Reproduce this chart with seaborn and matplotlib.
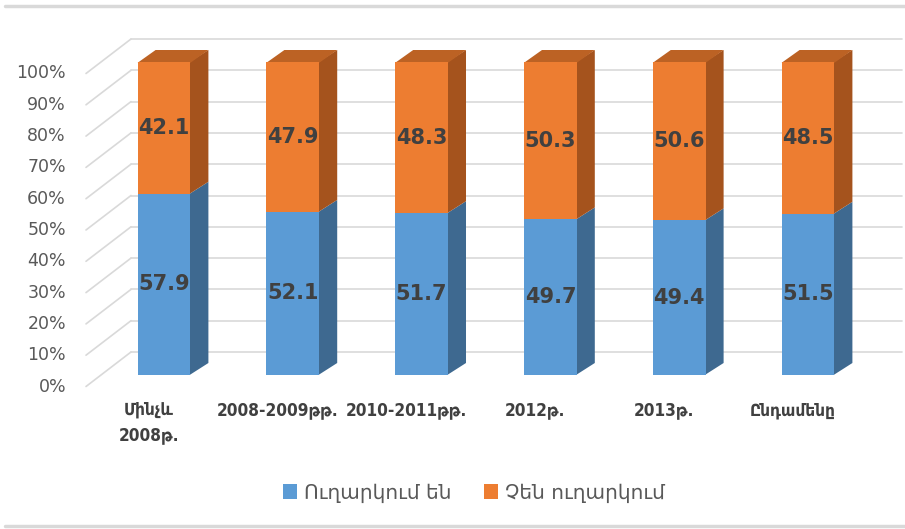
import matplotlib
matplotlib.use("Agg")
import matplotlib.pyplot as plt
from matplotlib.patches import Polygon, Patch
from matplotlib.transforms import IdentityTransform
from matplotlib.lines import Line2D
import seaborn as sns
import numpy as np

# ---- data ----
categories = ["Մինչև\n2008թ.", "2008-2009թթ.", "2010-2011թթ.", "2012թ.", "2013թ.", "Ընդամենը"]
send = [57.9, 52.1, 51.7, 49.7, 49.4, 51.5]
not_send = [42.1, 47.9, 48.3, 50.3, 50.6, 48.5]
series_names = ["Ուղարկում են", "Չեն ուղարկում"]
yticks = [0, 10, 20, 30, 40, 50, 60, 70, 80, 90, 100]
ytick_labels = [f"{v}%" for v in yticks]

# ---- style ----
sns.set_theme(style="white")
plt.rcParams['font.family'] = ['DejaVu Sans']

BLUE = "#5B9BD5"
BLUE_SIDE = "#3E6990"
ORANGE = "#ED7D31"
ORANGE_SIDE = "#A5531D"
ORANGE_TOP = "#BC6224"
GRID = "#d9d9d9"
TXT = "#595959"
LBL = "#404040"

W, H = 905, 529
fig = plt.figure(figsize=(W / 100, H / 100), dpi=100, facecolor="white")

# axes: y 0..100 maps to pixel rows 375..62 (from top); category i at x = 164 + 128.8*i
step = 128.8
x_left_px, x_right_px = 100, 900
ax = fig.add_axes([x_left_px / W, (H - 375) / H, (x_right_px - x_left_px) / W, 313 / H])
ax.set_facecolor("none")

totals = [a + b for a, b in zip(send, not_send)]
sns.barplot(x=categories, y=totals, color=ORANGE, saturation=1, width=0.41, ax=ax, zorder=3,
            linewidth=0, edgecolor="none")
sns.barplot(x=categories, y=send, color=BLUE, saturation=1, width=0.41, ax=ax, zorder=3,
            linewidth=0, edgecolor="none")

ax.set_xlim((x_left_px - 164) / step, (x_right_px - 164) / step)
ax.set_ylim(0, 100)
ax.axis("off")

ident = IdentityTransform()
tD = ax.transData

# ---- back wall gridlines, side wall diagonals, y tick labels ----
back_dy = 23
front_dy = -11.5
wall_x0 = 131
diag_x0 = 86
for v, lab in zip(yticks, ytick_labels):
    yd = tD.transform((0, v))[1]
    ax.add_line(Line2D([wall_x0, 902], [yd + back_dy, yd + back_dy], transform=ident,
                       color=GRID, lw=1.2, zorder=0, clip_on=False))
    ax.add_line(Line2D([diag_x0, wall_x0], [yd + front_dy, yd + back_dy], transform=ident,
                       color=GRID, lw=1.2, zorder=0, clip_on=False))
    ax.text(66, yd + front_dy, lab, transform=ident, ha="right", va="center",
            fontsize=12.5, color=TXT)

# ---- 3D sides / tops ----
dx, dy = 18, 12
n = len(categories)
orange_patches = ax.patches[:n]
blue_patches = ax.patches[n:2 * n]


def side_and_top(p, y_bottom, side_col, top_col=None):
    x0 = p.get_x(); x1 = x0 + p.get_width()
    y1 = p.get_y() + p.get_height()
    X0, Yb = tD.transform((x0, y_bottom))
    X1, Yt = tD.transform((x1, y1))
    ov = 0.8  # small overlap to avoid antialiasing seams
    ax.add_patch(Polygon([(X1 - ov, Yb), (X1 + dx, Yb + dy), (X1 + dx, Yt + dy), (X1 - ov, Yt)],
                         closed=True, transform=ident, facecolor=side_col, edgecolor="none",
                         zorder=2, clip_on=False))
    if top_col is not None:
        ax.add_patch(Polygon([(X0, Yt - ov), (X0 + dx, Yt + dy), (X1 + dx, Yt + dy), (X1, Yt - ov)],
                             closed=True, transform=ident, facecolor=top_col, edgecolor="none",
                             zorder=2, clip_on=False))


for i in range(n):
    bp = blue_patches[i]
    op = orange_patches[i]
    side_and_top(bp, bp.get_y(), BLUE_SIDE)
    side_and_top(op, bp.get_y() + bp.get_height(), ORANGE_SIDE, ORANGE_TOP)

# ---- value labels ----
for i in range(n):
    ax.text(i, send[i] / 2, f"{send[i]:.1f}", ha="center", va="center",
            fontsize=15, fontweight="bold", color=LBL, zorder=5)
    ax.text(i, send[i] + not_send[i] / 2, f"{not_send[i]:.1f}", ha="center", va="center",
            fontsize=15, fontweight="bold", color=LBL, zorder=5)

# ---- category labels ----
for i, cat in enumerate(categories):
    Xc = tD.transform((i, 0))[0] - 15
    ax.text(Xc, H - 401, cat, transform=ident, ha="center", va="top", multialignment="center",
            fontsize=12.3, fontweight="bold", fontstretch="condensed", color=LBL, linespacing=1.5)

# ---- legend ----
handles = [Patch(facecolor=BLUE, edgecolor="none"), Patch(facecolor=ORANGE, edgecolor="none")]
fig.legend(handles, series_names, loc="center", bbox_to_anchor=(0.524, 1 - 493 / H),
           ncol=2, frameon=False, fontsize=14.5, handlelength=0.7, handleheight=0.7,
           handletextpad=0.35, columnspacing=1.6, labelcolor=TXT)

# ---- frame lines ----
fig.add_artist(Line2D([5 / W, 1], [1 - 6 / H, 1 - 6 / H], transform=fig.transFigure,
                      color=GRID, lw=2.5))
fig.add_artist(Line2D([5 / W, 1], [1 - 526 / H, 1 - 526 / H], transform=fig.transFigure,
                      color=GRID, lw=2.5))

fig.savefig("out.png", dpi=100, facecolor="white")
